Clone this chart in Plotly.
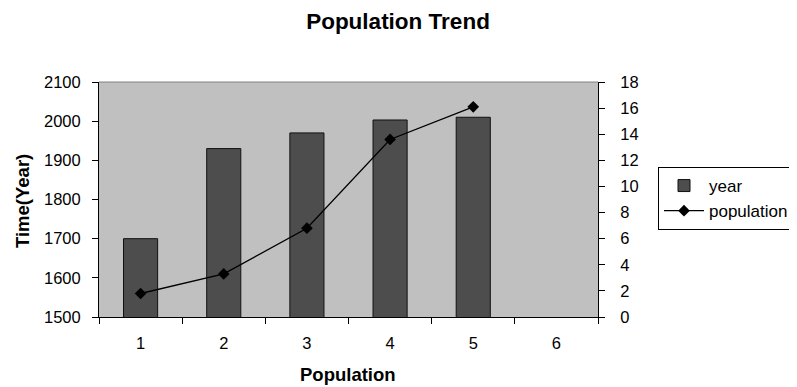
import plotly.graph_objects as go

categories = ["1", "2", "3", "4", "5", "6"]
year = [1700, 1930, 1970, 2003, 2010, None]
population = [1.8, 3.3, 6.8, 13.6, 16.1, None]
y_ticks = [1500, 1600, 1700, 1800, 1900, 2000, 2100]
y2_ticks = [0, 2, 4, 6, 8, 10, 12, 14, 16, 18]

font = "Liberation Sans, Arial, sans-serif"

# page body has an 8px margin, so the figure is offset by 8px
OFF = 8
L, R, T, B = 99 - OFF, 598 - OFF, 82 - OFF, 317 - OFF
W, H = 797, 387
PW, PH = R - L, B - T


def px_x(sx):
    return (sx - OFF - L) / PW


def px_y(sy):
    return (B - (sy - OFF)) / PH


fig = go.Figure()
fig.add_trace(go.Bar(
    x=categories, y=year, name="year", width=0.41,
    marker=dict(color="#4d4d4d", line=dict(color="#111111", width=1)),
))
fig.add_trace(go.Scatter(
    x=categories, y=population, name="population", yaxis="y2",
    mode="lines+markers",
    line=dict(color="black", width=1.3),
    marker=dict(symbol="diamond", size=9, color="black"),
))

fig.update_layout(
    width=W, height=H,
    margin=dict(l=L, r=W - R, t=T, b=H - B, autoexpand=False),
    paper_bgcolor="white",
    plot_bgcolor="#c0c0c0",
    font=dict(family=font, size=16.5, color="black"),
    title=dict(text="<b>Population Trend</b>", x=(398 - OFF) / W, xanchor="center",
               y=1 - (21 - OFF) / H, yanchor="middle", font=dict(size=22.5)),
    xaxis=dict(type="category", categoryarray=categories, range=[-0.5, 5.5],
               showline=True, linecolor="black", linewidth=1,
               ticks="outside", tickson="boundaries", ticklen=6, tickcolor="black",
               ticklabelstandoff=11,
               showgrid=False),
    yaxis=dict(range=[1500, 2100], tickvals=y_ticks,
               showline=True, linecolor="black", linewidth=1,
               ticks="outside", ticklen=6, tickcolor="black",
               ticklabelstandoff=8,
               showgrid=False, zeroline=False),
    yaxis2=dict(range=[0, 18], tickvals=y2_ticks, overlaying="y", side="right",
                showline=True, linecolor="black", linewidth=1,
                ticks="outside", ticklen=6, tickcolor="black",
                ticklabelstandoff=12,
                showgrid=False, zeroline=False),
    legend=dict(x=px_x(658), y=px_y(167),
                xanchor="left", yanchor="top",
                bordercolor="black", borderwidth=1, bgcolor="white",
                itemwidth=40,
                font=dict(size=17), tracegroupgap=0),
    showlegend=True,
    shapes=[dict(type="line", xref="paper", yref="paper", x0=0, x1=1, y0=1, y1=1,
                 line=dict(color="#808080", width=1))],
    annotations=[
        dict(text="<b>Population</b>", xref="paper", yref="paper",
             x=px_x(348), y=px_y(374), xanchor="center", yanchor="middle",
             showarrow=False, font=dict(size=18.5)),
        dict(text="<b>Time(Year)</b>", xref="paper", yref="paper",
             x=px_x(22), y=px_y(201), xanchor="center", yanchor="middle",
             textangle=-90, showarrow=False, font=dict(size=18.5)),
    ],
)

fig.write_html("out.html")
